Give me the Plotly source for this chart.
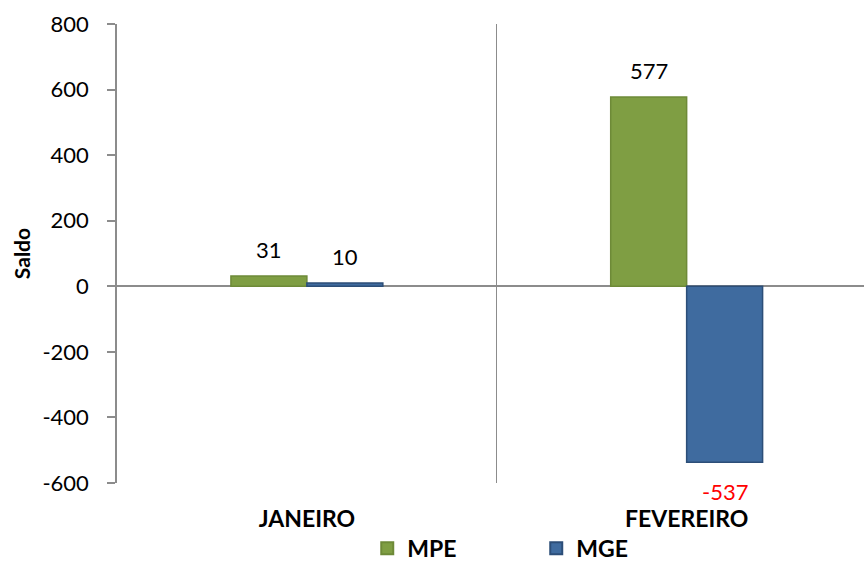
import plotly.graph_objects as go

categories = ["JANEIRO", "FEVEREIRO"]
mpe_values = [31, 577]
mge_values = [10, -537]
series_names = ["MPE", "MGE"]
y_ticks = [-600, -400, -200, 0, 200, 400, 600, 800]

FONT = "Lato, 'Liberation Sans', sans-serif"
GREEN = "#7F9E43"
GREEN_EDGE = "#6E8A38"
BLUE = "#3F6B9F"
BLUE_EDGE = "#2C4E78"
GRID = "#8C8C8C"

fig = go.Figure()
fig.add_trace(go.Bar(
    x=categories, y=mpe_values, name=series_names[0],
    marker=dict(color=GREEN, line=dict(color=GREEN_EDGE, width=1.5)),
))
fig.add_trace(go.Bar(
    x=categories, y=mge_values, name=series_names[1],
    marker=dict(color=BLUE, line=dict(color=BLUE_EDGE, width=1.5)),
))

# data labels
for vals, xs in ((mpe_values, -38), (mge_values, 38)):
    for cat, v in zip(categories, vals):
        fig.add_annotation(
            x=cat, y=v, text=str(v), showarrow=False,
            xshift=xs, yshift=27 if v >= 0 else -29,
            font=dict(family=FONT, size=22, color="#000000" if v >= 0 else "#FF0000"),
        )

fig.update_layout(
    width=864, height=580,
    margin=dict(l=117, r=0, t=24, b=97, autoexpand=False),
    paper_bgcolor="white", plot_bgcolor="white",
    barmode="group", bargap=0.6, bargroupgap=0,
    font=dict(family=FONT, size=22, color="#000000"),
    showlegend=True,
    legend=dict(
        orientation="h", x=0.335, xanchor="left", y=-0.142, yanchor="middle",
        font=dict(family=FONT, size=23, color="#000000", weight="bold"),
        entrywidth=124, entrywidthmode="pixels",
        itemsizing="constant", itemwidth=30,
    ),
)
fig.update_xaxes(
    range=[-0.5, 1.467],
    showline=False, ticks="", tickson="boundaries",
    showgrid=True, gridcolor=GRID, gridwidth=1.2,
    tickfont=dict(family=FONT, size=23, color="#000000", weight="bold"),
    ticklabelstandoff=20,
)
fig.update_yaxes(
    range=[-600, 800], tickvals=y_ticks, ticktext=[str(t) for t in y_ticks],
    showgrid=False,
    showline=True, linecolor=GRID, linewidth=1.5,
    ticks="outside", ticklen=8, tickcolor=GRID, tickwidth=1.5,
    zeroline=True, zerolinecolor=GRID, zerolinewidth=1.5,
    tickfont=dict(family=FONT, size=22, color="#000000"),
    ticklabelstandoff=14,
    title=dict(text="<b>Saldo</b>", font=dict(family=FONT, size=21, color="#000000"), standoff=6),
)

fig.write_html("out.html", config={"displayModeBar": False},
               post_script="document.body.style.margin='0';")
